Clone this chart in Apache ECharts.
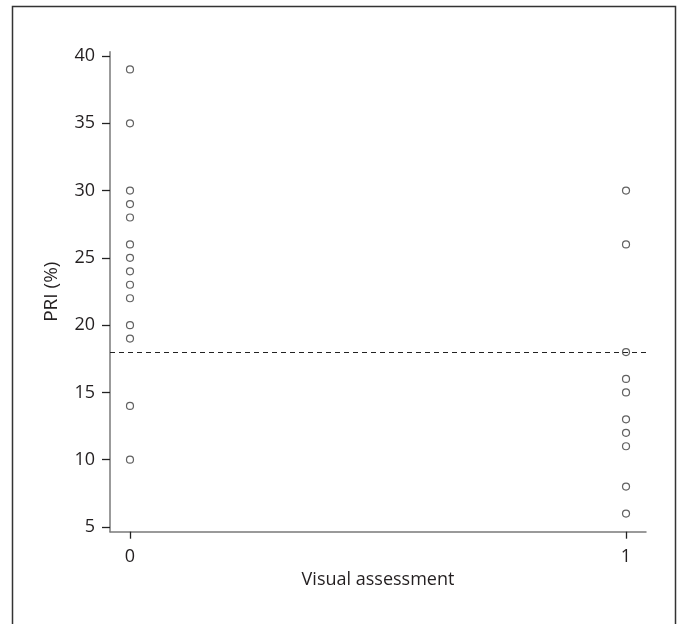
<!DOCTYPE html>
<html>
<head>
<meta charset="utf-8">
<script src="https://cdn.jsdelivr.net/npm/echarts@6/dist/echarts.min.js"></script>
<style>
html,body{margin:0;padding:0;background:#fff;}
#c{width:677px;height:624px;}
</style>
</head>
<body>
<div id="c"></div>
<script>
const xTicks = [0, 1];
const yTicks = [5, 10, 15, 20, 25, 30, 35, 40];
const group0 = [39, 35, 30, 29, 28, 26, 25, 24, 23, 22, 20, 19, 14, 10];
const group1 = [30, 26, 18, 16, 15, 13, 12, 11, 8, 6];
const cutoff = 18;
const xTitle = 'Visual assessment';
const yTitle = 'PRI (%)';

const pts = group0.map(v => [0, v]).concat(group1.map(v => [1, v]));
const font = 'Open Sans';
const chart = echarts.init(document.getElementById('c'), null, {renderer: 'canvas'});
chart.setOption({
  animation: false,
  backgroundColor: '#fff',
  graphic: [{
    type: 'rect', silent: true,
    shape: {x: 12.5, y: 6.5, width: 663, height: 700},
    style: {fill: 'none', stroke: '#333', lineWidth: 1.5}
  }],
  grid: {left: 110, right: 31, top: 51.7, bottom: 92.3},
  xAxis: {
    type: 'value', min: -0.0403, max: 1.0403,
    name: xTitle, nameLocation: 'middle', nameGap: 36,
    nameTextStyle: {fontFamily: font, fontSize: 18, color: '#231f20'},
    axisLine: {show: true, onZero: false, lineStyle: {color: '#7a7a7a', width: 1.5}},
    axisTick: {show: true, length: 7, customValues: xTicks, lineStyle: {color: '#222', width: 1.3}},
    axisLabel: {customValues: xTicks, margin: 16, fontFamily: font, fontSize: 18, color: '#231f20'},
    splitLine: {show: false}
  },
  yAxis: {
    type: 'value', min: 4.65, max: 40.32,
    name: yTitle, nameLocation: 'middle', nameGap: 49, nameRotate: 90,
    nameTextStyle: {fontFamily: font, fontSize: 19, color: '#231f20'},
    axisLine: {show: true, onZero: false, lineStyle: {color: '#7a7a7a', width: 1.5}},
    axisTick: {show: true, length: 8, customValues: yTicks, lineStyle: {color: '#222', width: 1.3}},
    axisLabel: {customValues: yTicks, margin: 15, fontFamily: font, fontSize: 18, color: '#231f20'},
    splitLine: {show: false}
  },
  series: [{
    type: 'scatter',
    data: pts,
    symbol: 'circle',
    symbolSize: 7,
    itemStyle: {color: '#fff', borderColor: '#3a3a3a', borderWidth: 1.2},
    markLine: {
      silent: true, symbol: 'none', label: {show: false},
      lineStyle: {type: [5, 4], color: '#222', width: 1},
      data: [{yAxis: cutoff}]
    }
  }]
});
</script>
</body>
</html>
